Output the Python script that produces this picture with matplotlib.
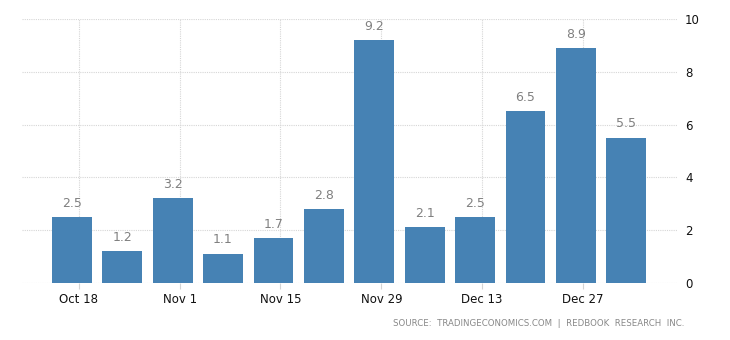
import matplotlib
matplotlib.use("Agg")
import matplotlib.pyplot as plt

# weekly same-store sales change (%)
weeks = ["Oct 18", "Oct 25", "Nov 1", "Nov 8", "Nov 15", "Nov 22",
         "Nov 29", "Dec 6", "Dec 13", "Dec 20", "Dec 27", "Jan 3"]
values = [2.5, 1.2, 3.2, 1.1, 1.7, 2.8, 9.2, 2.1, 2.5, 6.5, 8.9, 5.5]
tick_labels = ["Oct 18", "Nov 1", "Nov 15", "Nov 29", "Dec 13", "Dec 27"]
y_ticks = [0, 2, 4, 6, 8, 10]

fig = plt.figure(figsize=(7.3, 3.4), dpi=100)
ax = fig.add_axes([0.030, 0.168, 0.897, 0.776])

x = list(range(len(values)))
bars = ax.bar(x, values, width=0.79, color="#4682b4", zorder=2)
for bar, v in zip(bars, values):
    ax.text(bar.get_x() + bar.get_width() / 2, v + 0.28, f"{v}",
            ha="center", va="bottom", fontsize=9, color="#808080")

# date ticks sit slightly right of the bar centres
tick_pos = [weeks.index(t) + 0.14 for t in tick_labels]
ax.set_xticks(tick_pos)
ax.set_xticklabels(tick_labels, fontsize=8.5, color="#111111")
ax.set_xlim(-0.99, 12.0)

ax.set_ylim(0, 10)
ax.set_yticks(y_ticks)
ax.yaxis.tick_right()
ax.tick_params(axis="y", length=0, pad=6, labelsize=8.5, labelcolor="#111111")
ax.tick_params(axis="x", length=4, color="#d4d4d4", pad=3)

ax.grid(True, linestyle=(0, (1, 1)), color="#d6d6d6", linewidth=0.8, zorder=0)
for s in ax.spines.values():
    s.set_visible(False)

fig.text(0.938, 0.035, "SOURCE:  TRADINGECONOMICS.COM  |  REDBOOK  RESEARCH  INC.",
         ha="right", va="bottom", fontsize=6.2, color="#888888")

fig.savefig("out.png", dpi=100)
